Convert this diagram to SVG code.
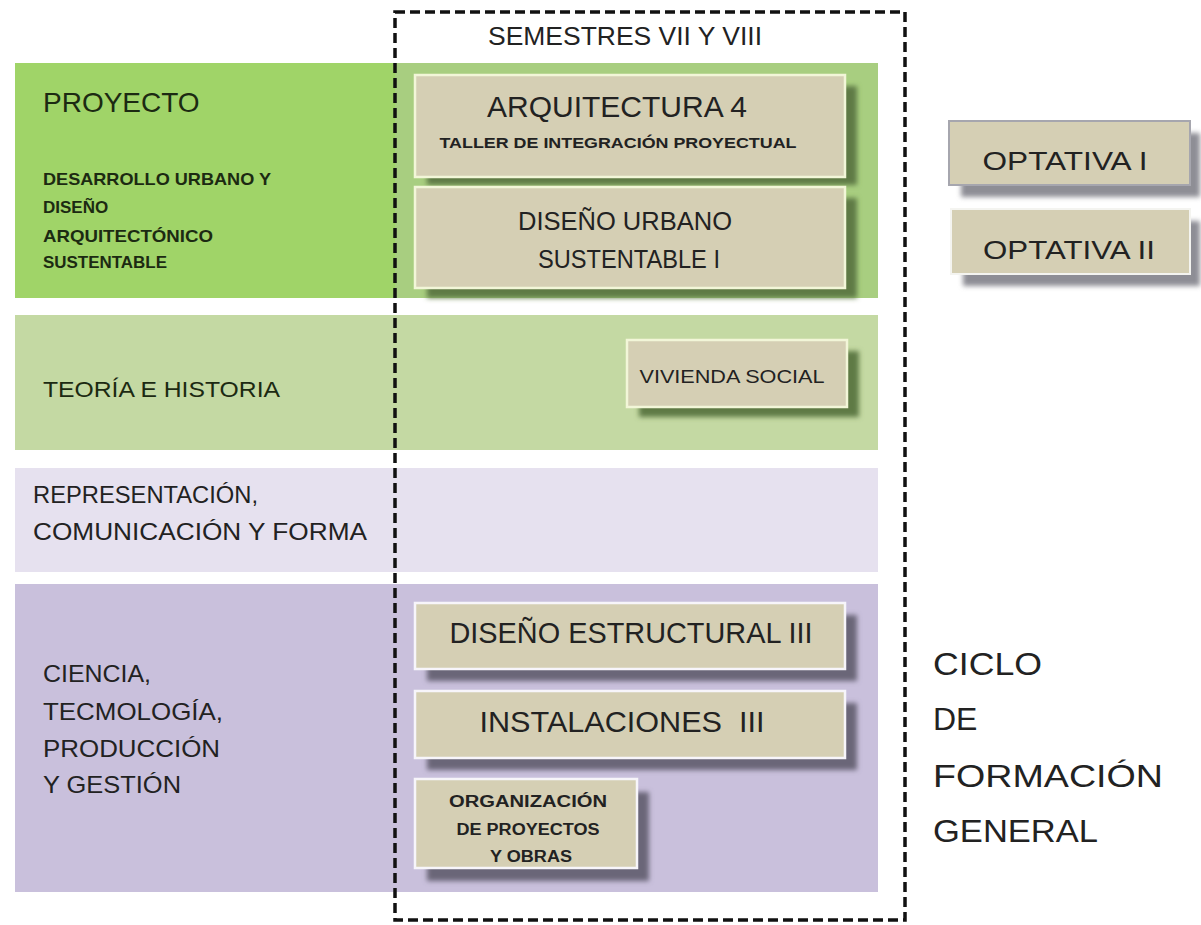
<svg xmlns="http://www.w3.org/2000/svg" width="1201" height="925" viewBox="0 0 1201 925">
<defs>
<filter id="blur" x="-20%" y="-20%" width="140%" height="140%"><feGaussianBlur stdDeviation="2.5"/></filter>
<style>
text{font-family:"Liberation Sans","DejaVu Sans",sans-serif;fill:#222}
.g{fill:#1c2a12}
.box{fill:#d5cfb4;stroke:#f2f6d8;stroke-width:2.5}
.boxp{fill:#d5cfb4;stroke:#f7f5fa;stroke-width:2.5}
.shg{fill:#5f7a45;filter:url(#blur)}
.shp{fill:#6a6678;filter:url(#blur)}
.sho{fill:#8e8e95;filter:url(#blur)}
.c{text-anchor:middle}
</style>
</defs>
<rect width="1201" height="925" fill="#ffffff"/>

<g id="band-proyecto">
<rect x="15" y="63" width="863" height="235" fill="#a8ce80"/>
<rect x="15" y="63" width="380" height="235" fill="#a0d468"/>
<text class="g" x="43" y="112" font-size="28">PROYECTO</text>
<text class="g" x="43" y="185" font-size="17" font-weight="bold" textLength="228" lengthAdjust="spacingAndGlyphs">DESARROLLO URBANO Y</text>
<text class="g" x="43" y="213" font-size="17" font-weight="bold">DISEÑO</text>
<text class="g" x="43" y="242" font-size="17" font-weight="bold" textLength="170" lengthAdjust="spacingAndGlyphs">ARQUITECTÓNICO</text>
<text class="g" x="43" y="268" font-size="17" font-weight="bold" textLength="124" lengthAdjust="spacingAndGlyphs">SUSTENTABLE</text>
</g>

<g id="band-teoria">
<rect x="15" y="315" width="863" height="135" fill="#c4d9a3"/>
<text class="g" x="43" y="397" font-size="22" textLength="237" lengthAdjust="spacingAndGlyphs">TEORÍA E HISTORIA</text>
</g>

<g id="band-representacion">
<rect x="15" y="468" width="863" height="104" fill="#e6e1ef"/>
<text x="33" y="503" font-size="24" textLength="225" lengthAdjust="spacingAndGlyphs">REPRESENTACIÓN,</text>
<text x="33" y="540" font-size="24" textLength="334" lengthAdjust="spacingAndGlyphs">COMUNICACIÓN Y FORMA</text>
</g>

<g id="band-ciencia">
<rect x="15" y="584" width="863" height="308" fill="#c9c0dc"/>
<text x="43" y="682" font-size="24" textLength="108" lengthAdjust="spacingAndGlyphs">CIENCIA,</text>
<text x="43" y="720" font-size="24" textLength="180" lengthAdjust="spacingAndGlyphs">TECMOLOGÍA,</text>
<text x="43" y="757" font-size="24" textLength="177" lengthAdjust="spacingAndGlyphs">PRODUCCIÓN</text>
<text x="43" y="793" font-size="24" textLength="138" lengthAdjust="spacingAndGlyphs">Y GESTIÓN</text>
</g>

<g id="node-arquitectura4">
<rect class="shg" x="427" y="86" width="430" height="99"/>
<rect class="box" x="415" y="75" width="430" height="102"/>
<text class="c" x="617" y="117" font-size="29" textLength="260" lengthAdjust="spacingAndGlyphs">ARQUITECTURA 4</text>
<text class="c" x="618" y="148" font-size="15" font-weight="bold" textLength="357" lengthAdjust="spacingAndGlyphs">TALLER DE INTEGRACIÓN PROYECTUAL</text>
</g>

<g id="node-diseno-urbano">
<rect class="shg" x="427" y="198" width="430" height="100"/>
<rect class="box" x="415" y="187" width="430" height="101"/>
<text class="c" x="625" y="230" font-size="25" textLength="214" lengthAdjust="spacingAndGlyphs">DISEÑO URBANO</text>
<text class="c" x="629" y="268" font-size="25" textLength="182" lengthAdjust="spacingAndGlyphs">SUSTENTABLE I</text>
</g>

<g id="node-vivienda">
<rect class="shg" x="639" y="351" width="220" height="66"/>
<rect class="box" x="627" y="340" width="220" height="67"/>
<text class="c" x="732" y="383" font-size="19" textLength="185" lengthAdjust="spacingAndGlyphs">VIVIENDA SOCIAL</text>
</g>

<g id="node-diseno-estructural">
<rect class="shp" x="427" y="615" width="430" height="66"/>
<rect class="boxp" x="415" y="603" width="430" height="66"/>
<text class="c" x="631" y="643" font-size="30" textLength="363" lengthAdjust="spacingAndGlyphs">DISEÑO ESTRUCTURAL III</text>
</g>

<g id="node-instalaciones">
<rect class="shp" x="427" y="703" width="430" height="67"/>
<rect class="boxp" x="415" y="691" width="430" height="67"/>
<text class="c" x="622" y="732" font-size="30" textLength="285" lengthAdjust="spacingAndGlyphs" xml:space="preserve">INSTALACIONES  III</text>
</g>

<g id="node-organizacion">
<rect class="shp" x="427" y="792" width="222" height="89"/>
<rect class="boxp" x="415" y="779" width="222" height="89"/>
<text class="c" x="528" y="807" font-size="16" font-weight="bold" textLength="158" lengthAdjust="spacingAndGlyphs">ORGANIZACIÓN</text>
<text class="c" x="528" y="835" font-size="16" font-weight="bold" textLength="143" lengthAdjust="spacingAndGlyphs">DE PROYECTOS</text>
<text class="c" x="531" y="862" font-size="16" font-weight="bold" textLength="82" lengthAdjust="spacingAndGlyphs">Y OBRAS</text>
</g>

<g id="node-optativa1">
<rect class="sho" x="961" y="133" width="239" height="64"/>
<rect x="949" y="121" width="241" height="64" fill="#d5cfb4" stroke="#a6a6ae" stroke-width="2"/>
<text class="c" x="1065" y="170" font-size="26" textLength="165" lengthAdjust="spacingAndGlyphs">OPTATIVA I</text>
</g>

<g id="node-optativa2">
<rect class="sho" x="963" y="221" width="237" height="65"/>
<rect x="951" y="209" width="239" height="65" fill="#d5cfb4" stroke="#f4f4f0" stroke-width="2"/>
<text class="c" x="1069" y="259" font-size="26" textLength="172" lengthAdjust="spacingAndGlyphs">OPTATIVA II</text>
</g>

<g id="frame-semestres">
<rect x="395" y="12" width="510" height="908" fill="none" stroke="#111" stroke-width="3.5" stroke-dasharray="10 5"/>
<text class="c" x="625" y="45" font-size="26" fill="#333" textLength="274" lengthAdjust="spacingAndGlyphs">SEMESTRES VII Y VIII</text>
</g>

<g id="label-ciclo">
<text x="933" y="675" font-size="32" textLength="109" lengthAdjust="spacingAndGlyphs">CICLO</text>
<text x="933" y="730" font-size="32">DE</text>
<text x="933" y="787" font-size="32" textLength="230" lengthAdjust="spacingAndGlyphs">FORMACIÓN</text>
<text x="933" y="842" font-size="32" textLength="165" lengthAdjust="spacingAndGlyphs">GENERAL</text>
</g>

<g id="connectors"/>
</svg>
